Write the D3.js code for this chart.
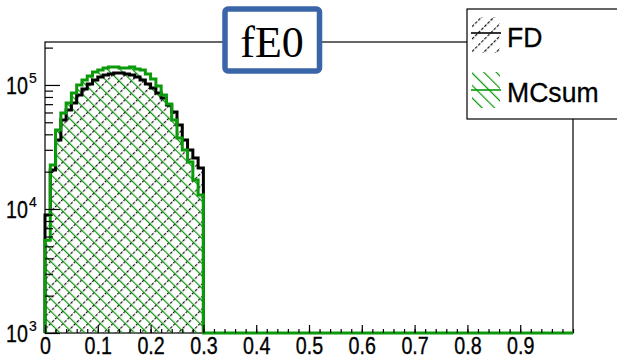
<!DOCTYPE html>
<html><head><meta charset="utf-8">
<script src="https://cdn.jsdelivr.net/npm/d3@7"></script>
<style>body{margin:0;background:#fff}svg{display:block}</style>
</head><body>
<svg id="c" width="617" height="358"></svg>
<script>
// ---- data ----
const binWidth = 0.01;
const binStarts = d3.range(0, 0.30, 0.01).map(v => +v.toFixed(2)); // 0.00 .. 0.29
const fdValues = [8950, 20600, 36000, 52200, 62900, 71600, 83000, 92900, 101900, 109700,
  116000, 120400, 122700, 124900, 124900, 122700, 120400, 116000, 109700, 101900,
  94600, 86150, 78600, 69000, 60600, 47600, 36000, 29900, 25800, 21400];
const mcValues = [5600, 22650, 43350, 59430, 71600, 86150, 100000, 109700, 118200, 127300,
  132100, 137100, 139700, 139700, 137100, 137100, 139700, 134600, 132100, 122700,
  111800, 98200, 83000, 70300, 52200, 37400, 29900, 23900, 17100, 12970];
const xTicks = [0, 0.1, 0.2, 0.3, 0.4, 0.5, 0.6, 0.7, 0.8, 0.9];
const yTicks = [1e3, 1e4, 1e5];
const seriesNames = ["FD", "MCsum"];
const title = "fE0";

// ---- layout ----
const svg = d3.select("#c");
const L = 45, R = 573, T = 42, B = 333;
const x = d3.scaleLinear().domain([0, 1]).range([L, R]);
const y = d3.scaleLog().domain([1000, 2.22e5]).range([B, T]);
const green = "#0a9a0a";
const sans = "Liberation Sans, Arial, sans-serif";

const defs = svg.append("defs");
function hatch(id, color, angle, w, dash) {
  const s = 8.8;
  const p = defs.append("pattern").attr("id", id).attr("patternUnits", "userSpaceOnUse")
    .attr("width", s).attr("height", s).attr("patternTransform", `rotate(${angle})`);
  const l = p.append("line").attr("x1", 0.6).attr("y1", -1).attr("x2", 0.6).attr("y2", s + 1)
    .attr("stroke", color).attr("stroke-width", w);
  if (dash) l.attr("stroke-dasharray", dash);
}
hatch("hFD", "#111", 45, 1.2, "3,1.4");
hatch("hMC", green, -45, 1.2, null);

function stepPts(vals) {
  const pts = [[x(binStarts[0]), B]];
  vals.forEach((v, i) => {
    pts.push([x(binStarts[i]), y(v)]);
    pts.push([x(binStarts[i] + binWidth), y(v)]);
  });
  pts.push([x(binStarts[vals.length - 1] + binWidth), B]);
  return pts;
}
const line = d3.line();

// frame
svg.append("rect").attr("x", L).attr("y", T).attr("width", R - L).attr("height", B - T)
  .attr("fill", "none").attr("stroke", "#000").attr("stroke-width", 1.2);

// fills
svg.append("path").attr("d", line(stepPts(fdValues)) + "Z").attr("fill", "url(#hFD)");
svg.append("path").attr("d", line(stepPts(mcValues)) + "Z").attr("fill", "url(#hMC)");

// outlines
svg.append("path").attr("d", line(stepPts(fdValues))).attr("fill", "none")
  .attr("stroke", "#000").attr("stroke-width", 3);
const mcPts = stepPts(mcValues);
mcPts.push([x(1), B]);
svg.append("path").attr("d", line(mcPts)).attr("fill", "none")
  .attr("stroke", green).attr("stroke-width", 3);

// x axis
const xg = svg.append("g").attr("transform", `translate(0,${B})`);
xg.call(d3.axisBottom(x).tickValues(d3.range(0, 1.0001, 0.02)).tickSize(-4).tickFormat(""));
xg.append("g").call(d3.axisBottom(x).tickValues(xTicks).tickSize(-8).tickPadding(4)
  .tickFormat(d => d === 0 ? "0" : d3.format(".1f")(d)));
xg.selectAll(".domain").remove();
xg.selectAll("line").attr("stroke", "#000").attr("stroke-width", 1.2);
xg.selectAll("text").attr("font-family", sans)
  .attr("font-size", 24).attr("fill", "#000").attr("stroke", "#000").attr("stroke-width", 0.35)
  .attr("y", 0).attr("dy", "0")
  .attr("transform", "translate(0,21) scale(0.82,1)");

// y axis
const yg = svg.append("g").attr("transform", `translate(${L},0)`);
const minors = [];
[1e3, 1e4, 1e5].forEach(d => { for (let k = 2; k <= 9; k++) if (d * k <= 2.22e5) minors.push(d * k); });
yg.call(d3.axisLeft(y).tickValues(minors).tickSize(-8).tickFormat(""));
yg.append("g").call(d3.axisLeft(y).tickValues(yTicks).tickSize(-15).tickFormat(""));
yg.selectAll(".domain").remove();
yg.selectAll("line").attr("stroke", "#000").attr("stroke-width", 1.2);
const yl = svg.append("g");
yTicks.forEach(t => {
  const tx = yl.append("text").attr("font-family", sans).attr("stroke", "#000").attr("stroke-width", 0.3)
    .attr("transform", `translate(28,${y(t) + 9}) scale(0.82,1)`).attr("text-anchor", "end");
  tx.append("tspan").attr("font-size", 24).text("10");
  yl.append("text").attr("font-family", sans).attr("stroke", "#000").attr("stroke-width", 0.2)
    .attr("font-size", 14).attr("x", 29).attr("y", y(t) - 2).text(Math.round(Math.log10(t)));
});

// legend
const lg = svg.append("g");
lg.append("rect").attr("x", 467).attr("y", 9).attr("width", 160).attr("height", 110)
  .attr("fill", "#fff").attr("stroke", "#000").attr("stroke-width", 1.2);
const sym = [["hFD", "#000", 17, 33], ["hMC", green, 72, 90]];
sym.forEach(([pat, col, top, mid], i) => {
  lg.append("rect").attr("x", 472).attr("y", top).attr("width", 28).attr("height", 36).attr("fill", `url(#${pat})`);
  lg.append("line").attr("x1", 471).attr("x2", 501).attr("y1", mid).attr("y2", mid)
    .attr("stroke", col).attr("stroke-width", 1.6);
  lg.append("text").attr("font-family", sans).attr("font-size", 28)
    .attr("stroke", "#000").attr("stroke-width", 0.3)
    .attr("transform", `translate(507,${i === 0 ? 47 : 102}) scale(0.95,1)`).text(seriesNames[i]);
});

// title box
svg.append("rect").attr("x", 225).attr("y", 9).attr("width", 94.5).attr("height", 62).attr("rx", 3)
  .attr("fill", "#fff").attr("stroke", "#3a66a8").attr("stroke-width", 5.5);
svg.append("text").attr("x", 272).attr("y", 57).attr("text-anchor", "middle")
  .attr("font-family", "Liberation Serif, Times New Roman, serif").attr("font-size", 44).text(title);
</script>
</body></html>
